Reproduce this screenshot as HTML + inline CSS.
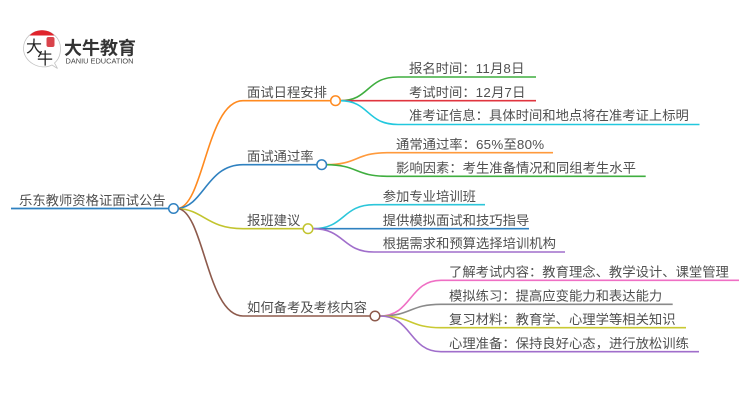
<!DOCTYPE html>
<html lang="zh">
<head>
<meta charset="utf-8">
<style>
html,body{margin:0;padding:0;background:#fff;width:750px;height:410px;overflow:hidden}
svg{display:block;filter:blur(.25px)}
text{font-family:"Liberation Sans","Noto Sans CJK SC",sans-serif;font-size:13.33px;fill:#505050}
.c{font-family:"Noto Sans CJK TC",sans-serif}
.d{letter-spacing:.3px}
path{fill:none;stroke-width:1.6}
circle.n{fill:#fff;stroke-width:1.5}
</style>
</head>
<body>
<svg width="750" height="410" viewBox="0 0 750 410" xmlns="http://www.w3.org/2000/svg">
<!-- logo -->
<path d="M52 65 C40 71 23.500 62 23.500 48.500 C23.500 38 32 30.500 42 30.500 C52 30.500 60.500 38 60.500 48.500 C60.500 55 58 60 54.500 63 L57.500 68.500 Z" style="stroke:#c4c4c4;stroke-width:.8"/>
<path d="M29.500 35.500 C33 32 37 30.300 42 30.300 C47 30.300 51 32 54.500 35.500 Z" style="fill:#e0232b;stroke:none"/>
<rect x="46.500" y="37" width="8" height="10" rx="2" fill="#d9434b"/>
<text x="26" y="52" style="font-size:16px;fill:#222;font-family:'Noto Sans CJK SC',sans-serif">大</text>
<text x="37" y="64" style="font-size:16px;fill:#222;font-family:'Noto Sans CJK SC',sans-serif">牛</text>
<text x="64" y="54.500" textLength="72" lengthAdjust="spacingAndGlyphs" style="font-size:18px;font-weight:700;fill:#333;font-family:'Noto Sans CJK SC',sans-serif">大牛教育</text>
<text x="65.500" y="63.500" textLength="68" lengthAdjust="spacingAndGlyphs" style="font-size:7px;fill:#444">DANIU EDUCATION</text>

<!-- main branches -->
<path d="M178 208.500 C204 205 207 100.700 243 100.700 L331 100.700" stroke="#ff8a1f"/>
<path d="M178 208.500 C204 206 207 164.700 243 164.700 L317 164.700" stroke="#2f81c0"/>
<path d="M178 208.500 C204 210 207 228.700 243 228.700 L303 228.700" stroke="#c2c42e"/>
<path d="M178 208.500 C204 212 207 316 243 316 L370 316" stroke="#8d5a4c"/>
<path d="M11 208.500 L169 208.500" stroke="#2f81c0" style="stroke-width:1.800"/>

<!-- sub branches 1 -->
<path d="M340 100.700 C370 100.700 366 77 398 77 L536 77" stroke="#3fae3f"/>
<path d="M340 100.700 L536 100.700" stroke="#e0353f"/>
<path d="M340 100.700 C370 100.700 366 124.500 398 124.500 L699.500 124.500" stroke="#22c8de"/>
<!-- sub branches 2 -->
<path d="M326 164.700 C358 164.700 355 152.700 387 152.700 L553 152.700" stroke="#ff9a3c"/>
<path d="M326 164.700 C358 164.700 355 176.300 387 176.300 L645.700 176.300" stroke="#3fae3f"/>
<!-- sub branches 3 -->
<path d="M313 228.700 C345 228.700 342 204.700 374 204.700 L485 204.700" stroke="#2cc6da"/>
<path d="M313 228.700 L529 228.700" stroke="#2f81c0"/>
<path d="M313 228.700 C345 228.700 342 252 374 252 L565 252" stroke="#a06ecb"/>
<!-- sub branches 4 -->
<path d="M380 316 C412 316 409 280.300 441 280.300 L739 280.300" stroke="#ef6fc4"/>
<path d="M380 316 C412 316 409 304.300 441 304.300 L672.700 304.300" stroke="#8a8a8a"/>
<path d="M380 316 C412 316 409 327.700 441 327.700 L686 327.700" stroke="#c9c932"/>
<path d="M380 316 C412 316 409 351.700 441 351.700 L699 351.700" stroke="#a06ecb"/>

<!-- nodes -->
<circle class="n" cx="173.500" cy="208.500" r="4.800" stroke="#2f81c0"/>
<circle class="n" cx="335.500" cy="100.700" r="4.800" stroke="#ff8a1f"/>
<circle class="n" cx="321.700" cy="164.700" r="4.800" stroke="#2f81c0"/>
<circle class="n" cx="308" cy="228.700" r="4.800" stroke="#c2c42e"/>
<circle class="n" cx="375" cy="316" r="4.800" stroke="#8d5a4c"/>

<!-- labels -->
<text x="19" y="205">乐东教师资格证面试公告</text>
<text x="247" y="97">面试日程安排</text>
<text x="247" y="161">面试通过率</text>
<text x="247" y="225">报班建议</text>
<text x="247" y="312">如何备考及考核内容</text>

<text x="409" y="73">报名时间<tspan class="c">：</tspan><tspan class="d">11</tspan>月<tspan class="d">8</tspan>日</text>
<text x="409" y="97">考试时间<tspan class="c">：</tspan><tspan class="d">12</tspan>月<tspan class="d">7</tspan>日</text>
<text x="409" y="120">准考证信息<tspan class="c">：</tspan>具体时间和地点将在准考证上标明</text>
<text x="396" y="149">通常通过率<tspan class="c">：</tspan><tspan class="d">65%</tspan>至<tspan class="d">80%</tspan></text>
<text x="396" y="172.500">影响因素<tspan class="c">：</tspan>考生准备情况和同组考生水平</text>
<text x="382.700" y="201">参加专业培训班</text>
<text x="382.700" y="225">提供模拟面试和技巧指导</text>
<text x="382.700" y="248">根据需求和预算选择培训机构</text>
<text x="449" y="276.500">了解考试内容<tspan class="c">：</tspan>教育理念、教学设计、课堂管理</text>
<text x="449" y="300.500">模拟练习<tspan class="c">：</tspan>提高应变能力和表达能力</text>
<text x="449" y="324">复习材料<tspan class="c">：</tspan>教育学、心理学等相关知识</text>
<text x="449" y="348">心理准备<tspan class="c">：</tspan>保持良好心态<tspan class="c">，</tspan>进行放松训练</text>
</svg>
</body>
</html>
